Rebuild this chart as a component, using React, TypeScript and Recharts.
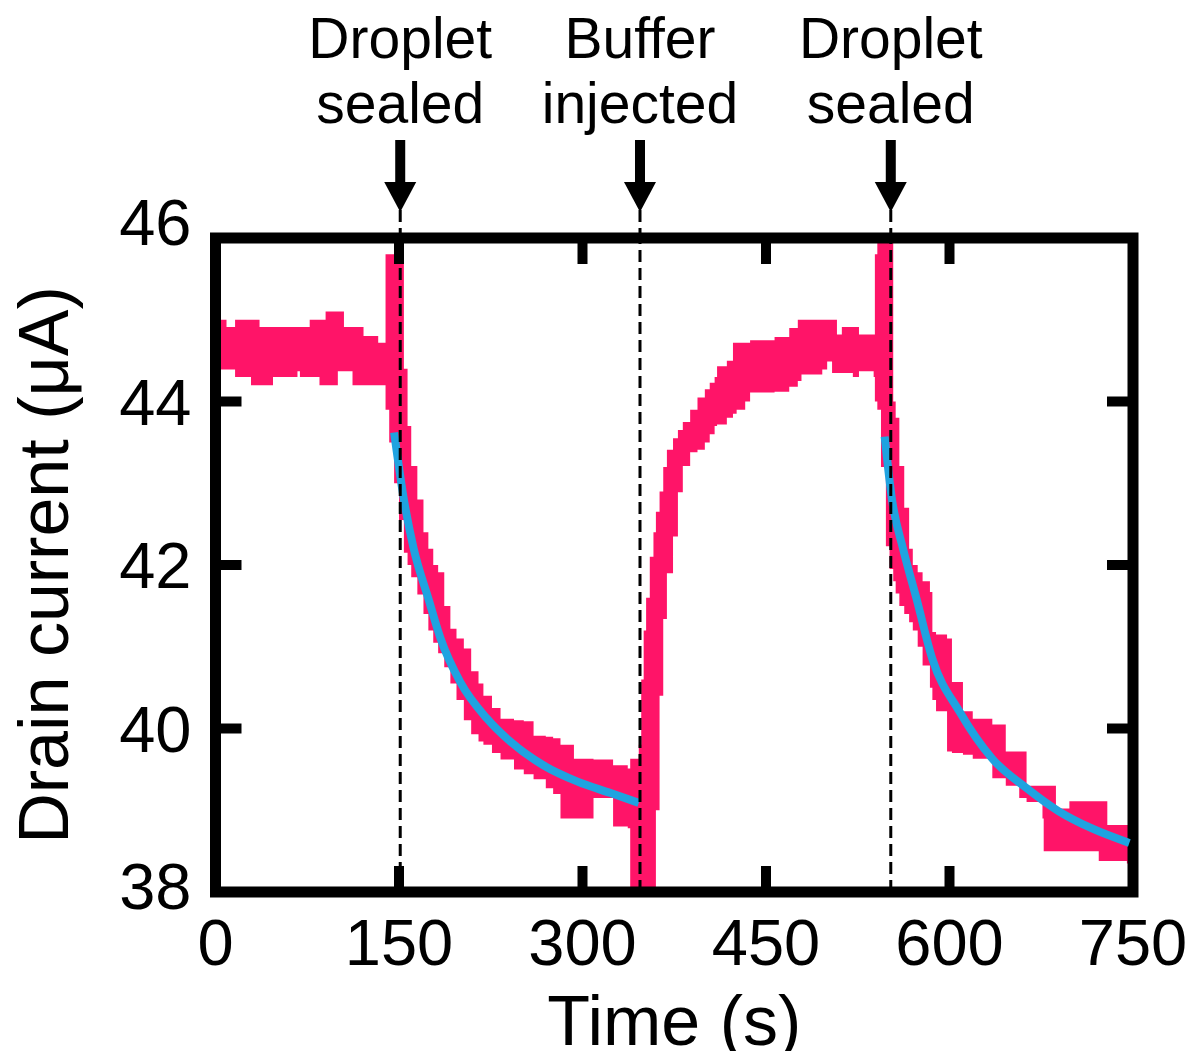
import {
  Area,
  ComposedChart,
  Line,
  ReferenceArea,
  ReferenceLine,
  XAxis,
  YAxis,
} from "recharts";

const FONT = "'Liberation Sans', Arial, Helvetica, sans-serif";
const PINK = "#FF1468";
const BLUE = "#1FA3E0";

// measured drain current band (low / high edge of the thick trace)
const bandTime = [
  0, 9, 16, 29, 36, 47, 67, 69, 77, 85, 90, 100, 105, 112, 121, 133,
  139, 142, 146, 150, 154, 157, 160, 165, 170, 174, 178, 182, 187, 192, 197,
  203, 209, 215, 219, 226, 233, 244, 252, 260, 270, 276, 282, 293, 309, 325,
  337, 339, 346, 348, 350, 352, 355, 358, 360, 363, 366, 369, 374, 378, 382,
  388, 394, 400, 404, 408, 410, 418, 423, 426, 433, 437, 457, 469, 476, 479,
  496, 500, 504, 508, 512, 521, 526, 538, 539, 541, 544, 548, 551, 554, 556,
  559, 563, 567, 570, 574, 578, 584, 586, 589, 598, 602, 611, 619, 635, 646,
  657, 663, 676, 677, 687, 698, 711, 722, 729, 745, 750,
];
const bandLow = [
  44.39, 44.39, 44.3, 44.2, 44.2, 44.3, 44.37, 44.3, 44.3, 44.2, 44.2, 44.37, 44.37, 44.2, 44.2, 44.2,
  43.9, 43.5, 43.0, 42.55, 42.15, 42.0, 41.85, 41.64, 41.4, 41.2, 41.05, 40.92, 40.75, 40.55, 40.35,
  40.1, 39.93, 39.84, 39.8, 39.7, 39.62, 39.5, 39.44, 39.38, 39.27, 39.2, 38.9, 38.9, 39.15, 38.8,
  38.78, 37.0, 37.0, 37.0, 37.0, 37.0, 37.0, 38.0, 39.0, 40.4, 41.34, 41.9, 42.35, 42.89, 43.21,
  43.38, 43.41, 43.5, 43.6, 43.7, 43.72, 43.8, 43.85, 43.9, 44.0, 44.11, 44.12, 44.18, 44.25, 44.33,
  44.39, 44.49, 44.35, 44.35, 44.35, 44.3, 44.37, 44.3, 44.0, 43.9, 43.2, 42.23, 41.95, 41.8, 41.65,
  41.5, 41.4, 41.3, 41.2, 41.0, 40.77, 40.5, 40.35, 40.21, 39.72, 39.7, 39.68, 39.63, 39.39, 39.3,
  39.15, 39.1, 38.9, 38.5, 38.5, 38.5, 38.5, 38.38, 38.38, 38.35, 38.33,
];
const bandHigh = [
  45.0, 44.91, 45.0, 45.0, 44.91, 44.91, 44.91, 44.91, 45.0, 45.0, 45.1, 45.1, 44.91, 44.91, 44.8, 44.72,
  45.8, 45.8, 45.8, 45.7, 44.4, 43.7, 43.21, 42.8, 42.4, 42.2, 42.0, 41.91, 41.5, 41.22, 41.1,
  40.98, 40.7, 40.55, 40.4, 40.25, 40.12, 40.1, 40.09, 39.91, 39.9, 39.88, 39.8, 39.63, 39.62, 39.55,
  39.51, 39.63, 39.8, 40.6, 41.2, 41.6, 42.1, 42.4, 42.65, 42.9, 43.2, 43.41, 43.55, 43.65, 43.75,
  43.9, 44.05, 44.15, 44.23, 44.3, 44.43, 44.5, 44.72, 44.72, 44.72, 44.75, 44.79, 44.9, 45.0, 45.0,
  45.0, 45.0, 45.0, 44.82, 44.91, 44.91, 44.82, 44.82, 45.8, 46.2, 46.2, 46.2, 46.2, 44.0, 43.8,
  43.21, 42.7, 42.2, 42.0, 41.91, 41.8, 41.67, 41.18, 41.15, 41.1, 40.57, 40.21, 40.12, 40.05, 39.72,
  39.72, 39.3, 39.3, 39.3, 39.02, 39.11, 39.11, 39.11, 38.82, 38.82, 38.62,
];

// exponential fits after each droplet sealing
const fit1Time = [146, 154, 162, 174, 184, 200, 222, 241, 268, 296, 323, 346];
const fit1Current = [43.62, 42.8, 42.2, 41.59, 41.1, 40.57, 40.12, 39.84, 39.55, 39.35, 39.21, 39.09];
const fit2Time = [547, 553, 562, 573, 586, 608, 635, 663, 689, 716, 747];
const fit2Current = [43.57, 42.8, 42.2, 41.59, 40.85, 40.21, 39.63, 39.27, 38.99, 38.78, 38.6];

const eventTimes = [151, 347, 552];
const eventLabels = [
  ["Droplet", "sealed"],
  ["Buffer", "injected"],
  ["Droplet", "sealed"],
];

const timeTicks = [0, 150, 300, 450, 600, 750];
const currentTicks = [38, 40, 42, 44, 46];

const bandData = bandTime.map((t, i) => ({ t, band: [bandLow[i], bandHigh[i]] }));
const fit1Data = fit1Time.map((t, i) => ({ t, fit: fit1Current[i] }));
const fit2Data = fit2Time.map((t, i) => ({ t, fit: fit2Current[i] }));

const TICK_IN = 26;
const inner = (v: number, ticks: number[]) => v !== ticks[0] && v !== ticks[ticks.length - 1];

const BottomTick = (props: any) => {
  const { x, y, payload } = props;
  return (
    <g>
      {inner(payload.value, timeTicks) && (
        <line x1={x} x2={x} y1={y} y2={y - TICK_IN} stroke="#000" strokeWidth={10} />
      )}
      <text x={x} y={y + 73} textAnchor="middle" fontSize={65} fontFamily={FONT} fill="#000">
        {payload.value}
      </text>
    </g>
  );
};

const TopTick = (props: any) => {
  const { x, y, payload } = props;
  if (!inner(payload.value, timeTicks)) return <g />;
  return <line x1={x} x2={x} y1={y} y2={y + TICK_IN} stroke="#000" strokeWidth={10} />;
};

const LeftTick = (props: any) => {
  const { x, y, payload } = props;
  const dy = payload.value === 46 ? -16 : payload.value === 38 ? -6 : 0;
  return (
    <g>
      {inner(payload.value, currentTicks) && (
        <line x1={x} x2={x + TICK_IN} y1={y} y2={y} stroke="#000" strokeWidth={10} />
      )}
      <text x={x - 24} y={y + 23 + dy} textAnchor="end" fontSize={65} fontFamily={FONT} fill="#000">
        {payload.value}
      </text>
    </g>
  );
};

const RightTick = (props: any) => {
  const { x, y, payload } = props;
  if (!inner(payload.value, currentTicks)) return <g />;
  return <line x1={x} x2={x - TICK_IN} y1={y} y2={y} stroke="#000" strokeWidth={10} />;
};

const EventMarker = ({ viewBox, lines }: any) => {
  const x = viewBox.x;
  const top = Math.min(viewBox.y, viewBox.y + viewBox.height);
  return (
    <g>
      <line x1={x} x2={x} y1={top - 28} y2={top} stroke="#000" strokeWidth={3} strokeDasharray="12 6" />
      <rect x={x - 5} y={top - 98} width={10} height={44} fill="#000" />
      <polygon points={`${x - 16},${top - 56} ${x + 16},${top - 56} ${x},${top - 26}`} fill="#000" />
      <text x={x} y={top - 180} textAnchor="middle" fontSize={57} fontFamily={FONT} fill="#000">
        {lines[0]}
      </text>
      <text x={x} y={top - 115} textAnchor="middle" fontSize={57} fontFamily={FONT} fill="#000">
        {lines[1]}
      </text>
    </g>
  );
};

const XTitle = (props: any) => {
  const vb = props.viewBox;
  return (
    <text x={vb.x + vb.width / 2} y={vb.y + 153} textAnchor="middle" fontSize={70} fontFamily={FONT} fill="#000">
      Time (s)
    </text>
  );
};

const YTitle = (props: any) => {
  const vb = props.viewBox;
  const x = vb.x + vb.width - 148;
  const y = vb.y + vb.height / 2;
  return (
    <text x={x} y={y} transform={`rotate(-90 ${x} ${y})`} textAnchor="middle" fontSize={70} fontFamily={FONT} fill="#000">
      Drain current (μA)
    </text>
  );
};

export default function App() {
  return (
    <div style={{ margin: -8, width: 1193, height: 1059 }}>
      <ComposedChart width={1193} height={1059} margin={{ top: 228, right: 50, bottom: 67, left: 95.5 }}>
        <XAxis
          dataKey="t"
          type="number"
          domain={[0, 750]}
          ticks={timeTicks}
          interval={0}
          allowDataOverflow
          axisLine={false}
          tickLine={false}
          tickSize={0}
          tickMargin={0}
          height={100}
          tick={<BottomTick />}
          label={(p: any) => <XTitle {...p} />}
        />
        <XAxis
          xAxisId="top"
          orientation="top"
          dataKey="t"
          type="number"
          domain={[0, 750]}
          ticks={timeTicks}
          interval={0}
          allowDataOverflow
          axisLine={false}
          tickLine={false}
          tickSize={0}
          tickMargin={0}
          height={10}
          tick={<TopTick />}
        />
        <YAxis
          type="number"
          domain={[38, 46]}
          ticks={currentTicks}
          interval={0}
          allowDataOverflow
          axisLine={false}
          tickLine={false}
          tickSize={0}
          tickMargin={0}
          width={120}
          tick={<LeftTick />}
          label={(p: any) => <YTitle {...p} />}
        />
        <YAxis
          yAxisId="right"
          orientation="right"
          type="number"
          domain={[38, 46]}
          ticks={currentTicks}
          interval={0}
          allowDataOverflow
          axisLine={false}
          tickLine={false}
          tickSize={0}
          tickMargin={0}
          width={10}
          tick={<RightTick />}
        />
        <Area
          data={bandData}
          dataKey="band"
          type="stepAfter"
          fill={PINK}
          fillOpacity={1}
          stroke="none"
          isAnimationActive={false}
        />
        <Line data={fit1Data} dataKey="fit" type="monotone" stroke={BLUE} strokeWidth={8} dot={false} isAnimationActive={false} />
        <Line data={fit2Data} dataKey="fit" type="monotone" stroke={BLUE} strokeWidth={8} dot={false} isAnimationActive={false} />
        {eventTimes.map((t, i) => (
          <ReferenceLine
            key={t}
            x={t}
            stroke="#000"
            strokeWidth={3}
            strokeDasharray="12 6"
            label={(p: any) => <EventMarker viewBox={p.viewBox} lines={eventLabels[i]} />}
          />
        ))}
        <ReferenceArea x1={0} x2={750} y1={38} y2={46} fill="none" stroke="#000" strokeWidth={11} />
      </ComposedChart>
    </div>
  );
}
